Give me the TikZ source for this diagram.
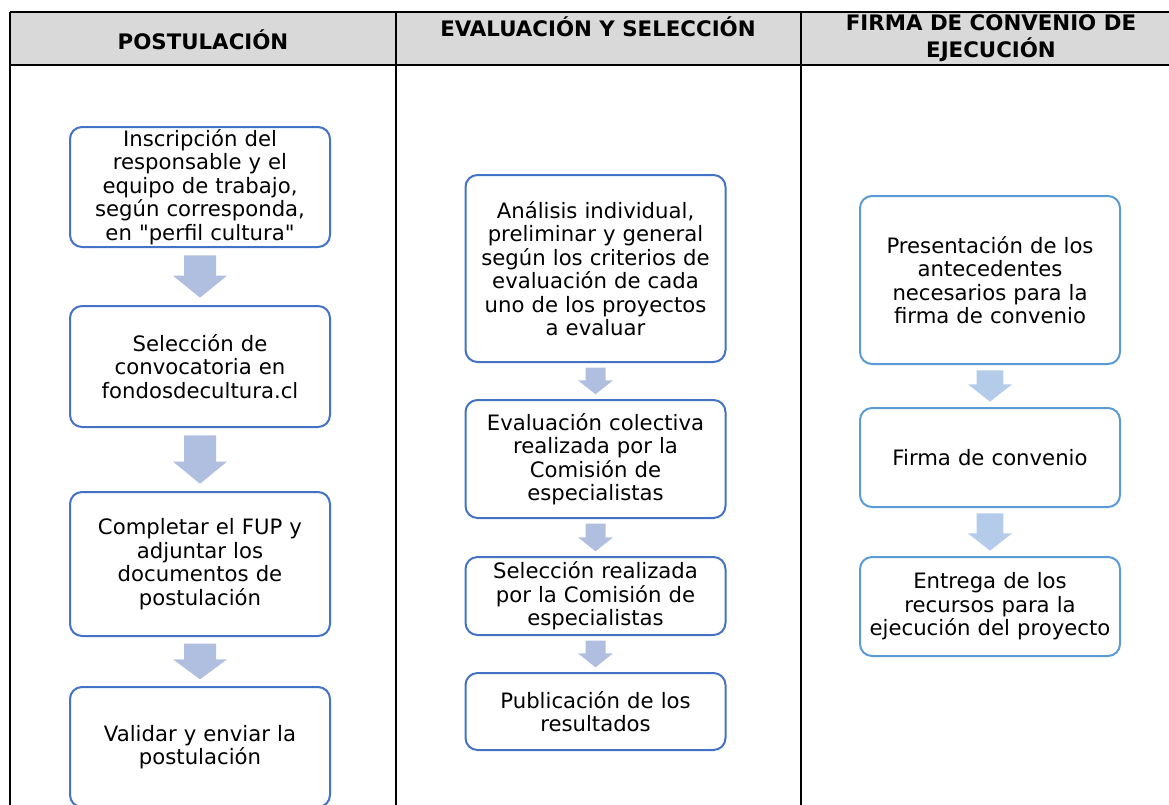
\documentclass[tikz,border=0pt]{standalone}
\usepackage{fontspec}
\setmainfont{DejaVu Sans}
\usetikzlibrary{calc,positioning}
\definecolor{azulA}{RGB}{68,114,196}
\definecolor{azulB}{RGB}{91,155,213}
\definecolor{flechaA}{RGB}{176,190,224}
\definecolor{flechaB}{RGB}{180,204,234}
\definecolor{gris}{RGB}{217,217,217}

\begin{document}
\begin{tikzpicture}[x=0.75pt,y=-0.75pt,line join=round,
  caja/.style={draw=azulA,line width=1.5pt,rounded corners=9pt,fill=white,text width=190pt,align=center,inner sep=0pt,minimum width=195pt,font=\fontsize{15.9}{17.6}\selectfont},
  cajaB/.style={caja,draw=azulB},
  titulo/.style={font=\fontsize{16}{20.5}\selectfont\bfseries,align=center,inner sep=0pt}]
\clip (0,0) rectangle (1169,804);
% tabla
\fill[gris] (10,12) rectangle (1181,65);
\draw[line width=1.5pt] (10,12) -- (1181,12) (10,65) -- (1181,65);
\foreach \x in {10,396,801,1181}{\draw[line width=1.5pt] (\x,12) -- (\x,820);}
\node[titulo] (t1) at (203,39.5) {POSTULACIÓN};
\node[titulo] (t2) at (598,26.5) {EVALUACIÓN Y SELECCIÓN};
\node[titulo] (t3) at (991,38.5) {FIRMA DE CONVENIO DE\\EJECUCIÓN};
% postulacion
\node[caja,minimum height=90pt] (i1) at (200,187) {Inscripción del\\responsable y el\\equipo de trabajo,\\según corresponda,\\en \textquotedbl perfil cultura\textquotedbl};
\node[caja,minimum height=90.75pt] (i2) at (200,366.5) {Selección de\\convocatoria en\\fondosdecultura.cl};
\node[caja,minimum height=108pt] (i3) at (200,564) {Completar el FUP y\\adjuntar los\\documentos de\\postulación};
\node[caja,minimum height=90pt] (i4) at (200,747) {Validar y enviar la\\postulación};
% evaluacion
\node[caja,minimum height=140.25pt] (e1) at (595.5,268.5) {Análisis individual,\\preliminar y general\\según los criterios de\\evaluación de cada\\uno de los proyectos\\a evaluar};
\node[caja,minimum height=88.5pt] (e2) at (595.5,459) {Evaluación colectiva\\realizada por la\\Comisión de\\especialistas};
\node[caja,minimum height=58.5pt] (e3) at (595.5,596) {Selección realizada\\por la Comisión de\\especialistas};
\node[caja,minimum height=57.75pt] (e4) at (595.5,711.5) {Publicación de los\\resultados};
% firma
\node[cajaB,minimum height=126pt] (f1) at (990,280) {Presentación de los\\antecedentes\\necesarios para la\\firma de convenio};
\node[cajaB,minimum height=74.25pt] (f2) at (990,457.5) {Firma de convenio};
\node[cajaB,minimum height=74.25pt] (f3) at (990,606.5) {Entrega de los\\recursos para la\\ejecución del proyecto};
% flechas
\foreach \a/\b/\w/\h/\l/\g/\c in {i1/i2/12pt/20.25pt/16.5pt/5.5pt/flechaA,i2/i3/12pt/20.25pt/16.5pt/5.5pt/flechaA,i3/i4/12pt/20.25pt/15pt/5pt/flechaA,
  e1/e2/7.5pt/13.1pt/10.5pt/3.5pt/flechaA,e2/e3/7.5pt/13.1pt/10.5pt/3.5pt/flechaA,e3/e4/7.5pt/13.1pt/10.5pt/3.5pt/flechaA,
  f1/f2/10.1pt/16.5pt/13pt/4pt/flechaB,f2/f3/10.1pt/16.5pt/13pt/4pt/flechaB}{
  \fill[\c] let \p1=(\a.south), \p2=(\b.north) in
    (\x1-\w,\y1-\g) -- (\x1+\w,\y1-\g) -- (\x1+\w,\y2+\g+\l) -- (\x1+\h,\y2+\g+\l)
    -- (\x1,\y2+\g) -- (\x1-\h,\y2+\g+\l) -- (\x1-\w,\y2+\g+\l) -- cycle;}
\end{tikzpicture}
\end{document}
